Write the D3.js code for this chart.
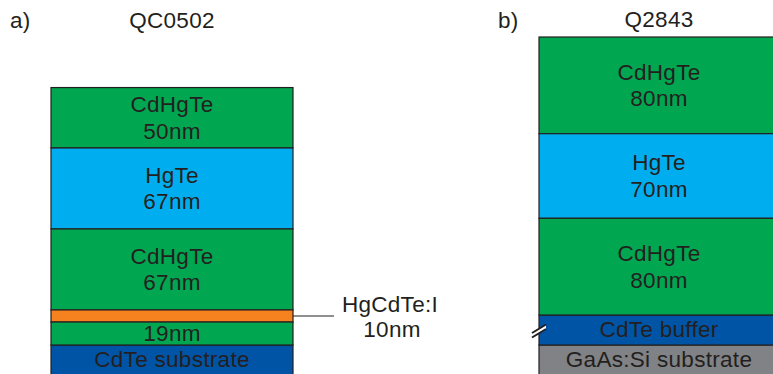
<!DOCTYPE html>
<html>
<head>
<meta charset="utf-8">
<script src="https://cdn.jsdelivr.net/npm/d3@7"></script>
<style>
  html, body { margin: 0; padding: 0; background: #fff; }
  svg { display: block; }
  text { font-family: "Liberation Sans", Arial, Helvetica, sans-serif; fill: #231F20; letter-spacing: 0.3px; }
</style>
</head>
<body>
<svg id="chart" width="773" height="374"></svg>
<script>
// Sample QC0502 — epitaxial layers, top to bottom
const layersA = ["CdHgTe", "HgTe", "CdHgTe", "HgCdTe:I", "CdHgTe"];
const thickA = [50, 67, 67, 10, 19];          // nm
const labelA = ["CdHgTe", "HgTe", "CdHgTe", "", ""]; // names written inside the layer
const substrateA = "CdTe substrate";

// Sample Q2843 — epitaxial layers, top to bottom
const layersB = ["CdHgTe", "HgTe", "CdHgTe"];
const thickB = [80, 70, 80];                  // nm
const labelB = ["CdHgTe", "HgTe", "CdHgTe"];
const bufferB = "CdTe buffer";
const substrateB = "GaAs:Si substrate";

const titles = ["QC0502", "Q2843"];
const panels = ["a)", "b)"];

const materialColor = {
  "CdHgTe": "#00A650",
  "HgTe": "#00AEEF",
  "HgCdTe:I": "#F5821F",
  "CdTe": "#0054A6",
  "GaAs:Si": "#808285"
};
const edge = "#231F20";

const svg = d3.select("#chart");

// nm -> pixel height, shared by both stacks so layers stay to scale
const hScale = d3.scaleLinear().domain([0, 230]).range([0, 278]);
const fs = 22.5;

function label(g, x, y, txt) {
  return g.append("text").attr("x", x).attr("y", y)
    .attr("text-anchor", "middle").style("font-size", fs + "px").text(txt);
}

function drawStack(g, names, thick, labels, x0, x1, bottom) {
  const total = d3.sum(thick);
  const y = d3.scaleLinear().domain([0, total]).range([bottom - hScale(total), bottom]);
  const cum = d3.cumsum([0, ...thick]);
  const cx = (x0 + x1) / 2;
  names.forEach((n, i) => {
    const ya = y(cum[i]), yb = y(cum[i + 1]);
    g.append("rect")
      .attr("x", x0).attr("y", ya)
      .attr("width", x1 - x0).attr("height", yb - ya)
      .attr("fill", materialColor[n])
      .attr("stroke", edge).attr("stroke-width", 1.2);
    const mid = (ya + yb) / 2;
    if (labels[i]) {
      label(g, cx, mid - 5.8, labels[i]);
      label(g, cx, mid + 21, thick[i] + "nm");
    } else if (n !== "HgCdTe:I") {
      label(g, cx, mid + 7.5, thick[i] + "nm");
    }
  });
  return { y, cum };
}

function plainLayer(g, material, text, x0, x1, ya, yb, baseline) {
  g.append("rect")
    .attr("x", x0).attr("y", ya)
    .attr("width", x1 - x0).attr("height", yb - ya)
    .attr("fill", materialColor[material])
    .attr("stroke", edge).attr("stroke-width", 1.2);
  label(g, (x0 + x1) / 2, baseline, text);
}

// ---- panel a ----
const gA = svg.append("g");
const ax0 = 51, ax1 = 293, aBottom = 345;
plainLayer(gA, "CdTe", substrateA, ax0, ax1, aBottom, 390, 366.7);
const stA = drawStack(gA, layersA, thickA, labelA, ax0, ax1, aBottom);

// external label for the doped layer
const iDoped = layersA.indexOf("HgCdTe:I");
const dopedMid = (stA.y(stA.cum[iDoped]) + stA.y(stA.cum[iDoped + 1])) / 2;
gA.append("line").attr("x1", ax1).attr("x2", 334)
  .attr("y1", dopedMid).attr("y2", dopedMid)
  .attr("stroke", edge).attr("stroke-width", 1.2);
label(gA, 390, 312.3, layersA[iDoped]);
label(gA, 392, 337, thickA[iDoped] + "nm");

gA.append("text").attr("x", 10).attr("y", 27.7).style("font-size", fs + "px").text(panels[0]);
label(gA, (ax0 + ax1) / 2, 27.7, titles[0]);

// ---- panel b ----
const gB = svg.append("g");
const bx0 = 539, bx1 = 779, bufTop = 315, subTop = 345;
plainLayer(gB, "GaAs:Si", substrateB, bx0, bx1, subTop, 390, 366.7);
plainLayer(gB, "CdTe", bufferB, bx0, bx1, bufTop, subTop, 336.7);
drawStack(gB, layersB, thickB, labelB, bx0, bx1, bufTop);

// break mark on the buffer edge (not to scale)
gB.append("polygon")
  .attr("points", `${bx0 - 6},333 ${bx0 + 7},325 ${bx0 + 7},329.5 ${bx0 - 6},337`)
  .attr("fill", "#fff");
[[333, 324.5], [337.5, 329]].forEach(([ya, yb]) => {
  gB.append("line")
    .attr("x1", bx0 - 7).attr("y1", ya).attr("x2", bx0 + 7).attr("y2", yb)
    .attr("stroke", edge).attr("stroke-width", 2);
});

gB.append("text").attr("x", 498).attr("y", 27.7).style("font-size", fs + "px").text(panels[1]);
label(gB, (bx0 + bx1) / 2, 26.7, titles[1]);
</script>
</body>
</html>
